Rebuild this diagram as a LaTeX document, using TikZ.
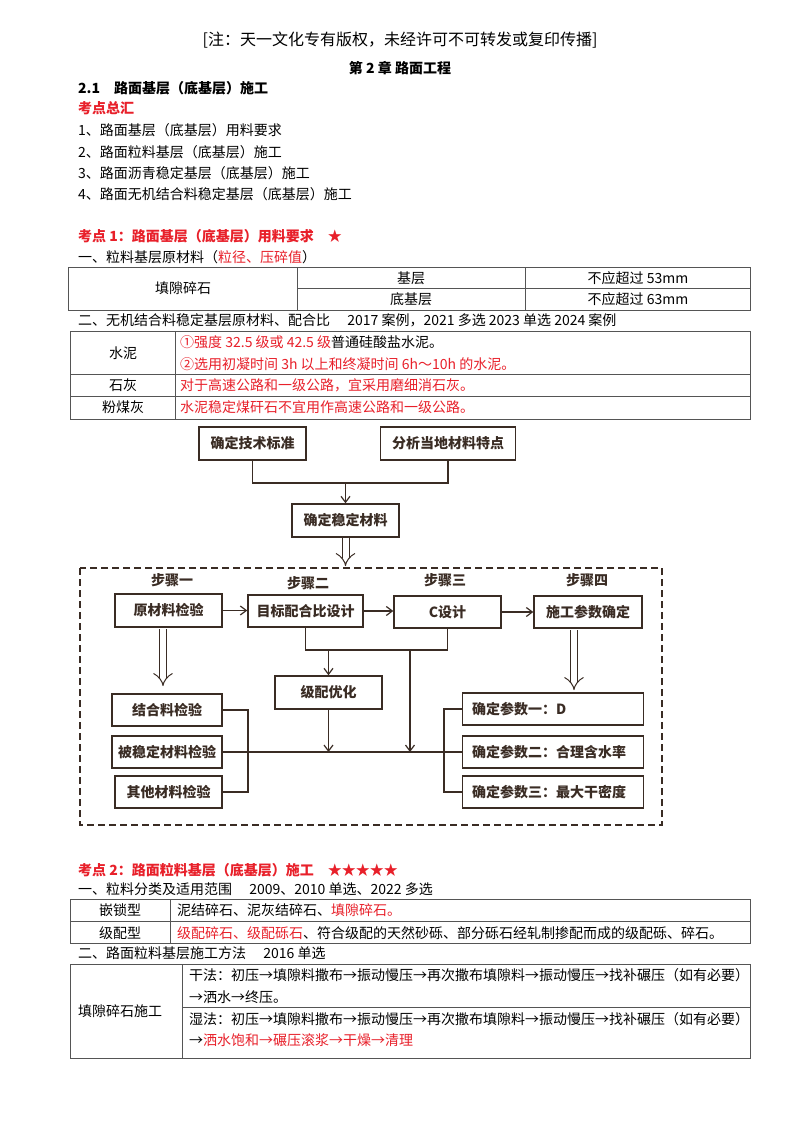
\documentclass[tikz,border=0pt]{standalone}
\usepackage{fontspec}
\setmainfont{Noto Sans CJK SC}
\usetikzlibrary{arrows.meta}
\definecolor{rd}{HTML}{E8202A}
\definecolor{bx}{HTML}{3A2C24}
\definecolor{tl}{HTML}{555555}
\begin{document}
\begin{tikzpicture}[x=1pt,y=-1pt,
  txt/.style={anchor=west,inner sep=0pt,font=\fontsize{14}{16}\selectfont},
  ctxt/.style={inner sep=0pt,font=\fontsize{14}{16}\selectfont},
  fbox/.style={draw=bx,line width=1.4pt,inner sep=0pt,font=\bfseries\fontsize{14}{16}\selectfont,text=bx},
  stp/.style={inner sep=0pt,font=\bfseries\fontsize{14}{16}\selectfont,text=bx},
  ln/.style={draw=bx,line width=1.2pt},
  arr/.style={ln,-{Straight Barb[length=6pt,width=9pt]}},
  dbl/.style={draw=bx,double=white,double distance=6pt,line width=1pt,-{Implies[length=10pt]}},
  tab/.style={draw=tl,line width=0.9pt}]
\useasboundingbox[fill=white] (0,0) rectangle (800,1132);
% header
\node[ctxt,font=\fontsize{16}{18}\selectfont] (hd) at (400,40) {[注：天一文化专有版权，未经许可不可转发或复印传播]};
\node[ctxt,font=\bfseries\fontsize{14}{16}\selectfont] (ch) at (400,68) {第 2 章 路面工程};
\node[txt,font=\bfseries\fontsize{14}{16}\selectfont] (s21) at (78,88) {2.1\quad 路面基层（底基层）施工};
\node[txt,font=\bfseries\fontsize{14}{16}\selectfont,text=rd] (kd) at (78,108) {考点总汇};
\node[txt] (l1) at (78,130) {1、路面基层（底基层）用料要求};
\node[txt] (l2) at (78,152) {2、路面粒料基层（底基层）施工};
\node[txt] (l3) at (78,173) {3、路面沥青稳定基层（底基层）施工};
\node[txt] (l4) at (78,194) {4、路面无机结合料稳定基层（底基层）施工};
\node[txt,font=\bfseries\fontsize{14}{16}\selectfont,text=rd] (k1) at (78,236) {考点 1：路面基层（底基层）用料要求\quad ★};
\node[txt] (y1) at (78,257) {一、粒料基层原材料（\textcolor{rd}{粒径、压碎值}）};
% table 1
\draw[tab] (68,267) rectangle (750,310);
\draw[tab] (297,267) -- (297,310) (525,267) -- (525,310) (297,288) -- (750,288);
\node[ctxt] (t1a) at (183,288) {填隙碎石};
\node[ctxt] (t1b) at (411,278) {基层};
\node[ctxt] (t1c) at (411,299) {底基层};
\node[ctxt] (t1d) at (638,278) {不应超过 53mm};
\node[ctxt] (t1e) at (638,299) {不应超过 63mm};
\node[txt] (y2) at (78,320) {二、无机结合料稳定基层原材料、配合比\quad\ 2017 案例，2021 多选 2023 单选 2024 案例};
% table 2
\draw[tab] (70,331) rectangle (750,419);
\draw[tab] (175,331) -- (175,419) (70,374) -- (750,374) (70,396) -- (750,396);
\node[ctxt] (t2a) at (123,353) {水泥};
\node[txt] (t2b) at (180,342) {\textcolor{rd}{①强度 32.5 级或 42.5 级}普通硅酸盐水泥。};
\node[txt,text=rd] (t2c) at (180,364) {②选用初凝时间 3h 以上和终凝时间 6h～10h 的水泥。};
\node[ctxt] (t2d) at (123,385) {石灰};
\node[txt,text=rd] (t2e) at (180,385) {对于高速公路和一级公路，宜采用磨细消石灰。};
\node[ctxt] (t2f) at (123,407) {粉煤灰};
\node[txt,text=rd] (t2g) at (180,407) {水泥稳定煤矸石不宜用作高速公路和一级公路。};
% flowchart
\node[fbox,minimum width=107pt,minimum height=33pt] (std) at (252.5,443.5) {确定技术标准};
\node[fbox,minimum width=135pt,minimum height=33pt] (ana) at (448,443.5) {分析当地材料特点};
\node[fbox,minimum width=107pt,minimum height=33pt] (mat) at (345.5,520.5) {确定稳定材料};
\coordinate (j1) at (345.5,483);
\draw[ln] (std.south) |- (j1) -| (ana.south);
\draw[arr] (j1) -- (mat.north);
\coordinate (m2) at (345.5,566);
\draw[dbl] (mat.south) -- (m2);
\draw[draw=bx,line width=1.6pt,dash pattern=on 7pt off 4pt] (80,568) rectangle (662,825);
\node[stp] (b1) at (172,580) {步骤一};
\node[stp] (b2) at (308,583) {步骤二};
\node[stp] (b3) at (445,580) {步骤三};
\node[stp] (b4) at (587,580) {步骤四};
\node[fbox,minimum width=107pt,minimum height=33pt] (raw) at (168.5,610.5) {原材料检验};
\node[fbox,minimum width=115pt,minimum height=32pt] (tgt) at (305.5,611) {目标配合比设计};
\node[fbox,minimum width=107pt,minimum height=32pt] (cds) at (447.5,612) {C设计};
\node[fbox,minimum width=108pt,minimum height=32pt] (par) at (588,612) {施工参数确定};
\draw[arr] (raw.east) -- (tgt.west|-raw.east);
\draw[arr] (tgt.east) -- (cds.west|-tgt.east);
\draw[arr] (cds.east) -- (par.west);
\coordinate (r1) at (163,629); \coordinate (r2) at (163,686);
\draw[dbl] (r1) -- (r2);
\coordinate (c1) at (574,630); \coordinate (c2) at (574,690);
\draw[dbl] (c1) -- (c2);
\node[fbox,minimum width=110pt,minimum height=32pt] (jhl) at (167,710) {结合料检验};
\node[fbox,minimum width=110pt,minimum height=32pt] (bwd) at (167,752) {被稳定材料检验};
\node[fbox,minimum width=107pt,minimum height=32pt] (qt) at (168.5,792) {其他材料检验};
\node[fbox,minimum width=107pt,minimum height=33pt] (jp) at (328.5,692.5) {级配优化};
\node[fbox,minimum width=181pt,minimum height=32pt,anchor=west,text width=170pt,align=left] (p1) at (462,709) {\hspace*{4pt}确定参数一：D};
\node[fbox,minimum width=181pt,minimum height=32pt,anchor=west,text width=170pt,align=left] (p2) at (462,752) {\hspace*{4pt}确定参数二：合理含水率};
\node[fbox,minimum width=181pt,minimum height=32pt,anchor=west,text width=170pt,align=left] (p3) at (462,792) {\hspace*{4pt}确定参数三：最大干密度};
\coordinate (h1) at (305.5,650); \coordinate (h2) at (447.5,650);
\draw[ln] (tgt.south) -- (h1) -- (h2) -- (cds.south);
\coordinate (a1) at (328.5,650); \coordinate (a2) at (410,650); \coordinate (a3) at (410,752);
\coordinate (a4) at (328.5,752);
\draw[arr] (a1) -- (jp.north);
\draw[arr] (a2) -- (a3);
\draw[arr] (jp.south) -- (a4);
\draw[ln] (jhl.east) -- (248,710) -- (248,792) -- (qt.east);
\draw[ln] (bwd.east) -- (p2.west);
\draw[ln] (p1.west) -- (444,709) -- (444,792) -- (p3.west);
% section 2
\node[txt,font=\bfseries\fontsize{14}{16}\selectfont,text=rd] (k2) at (78,870) {考点 2：路面粒料基层（底基层）施工\quad ★★★★★};
\node[txt] (y3) at (78,889) {一、粒料分类及适用范围\quad\ 2009、2010 单选、2022 多选};
\draw[tab] (70,899) rectangle (750,943);
\draw[tab] (170,899) -- (170,943) (70,921) -- (750,921);
\node[ctxt] (t3a) at (120,910) {嵌锁型};
\node[txt] (t3b) at (177,910) {泥结碎石、泥灰结碎石、\textcolor{rd}{填隙碎石。}};
\node[ctxt] (t3c) at (120,933) {级配型};
\node[txt] (t3d) at (177,933) {\textcolor{rd}{级配碎石、级配砾石}、符合级配的天然砂砾、部分砾石经轧制掺配而成的级配砾、碎石。};
\node[txt] (y4) at (78,953) {二、路面粒料基层施工方法\quad\ 2016 单选};
\draw[tab] (70,964) rectangle (750,1058);
\draw[tab] (182,964) -- (182,1058) (182,1007) -- (750,1007);
\node[ctxt] (t4a) at (120,1011) {填隙碎石施工};
\node[txt] (t4b) at (189,975) {干法：初压→填隙料撒布→振动慢压→再次撒布填隙料→振动慢压→找补碾压（如有必要）};
\node[txt] (t4c) at (189,997) {→洒水→终压。};
\node[txt] (t4d) at (189,1019) {湿法：初压→填隙料撒布→振动慢压→再次撒布填隙料→振动慢压→找补碾压（如有必要）};
\node[txt] (t4e) at (189,1040) {→\textcolor{rd}{洒水饱和→碾压滚浆→干燥→清理}};
\end{tikzpicture}
\end{document}
